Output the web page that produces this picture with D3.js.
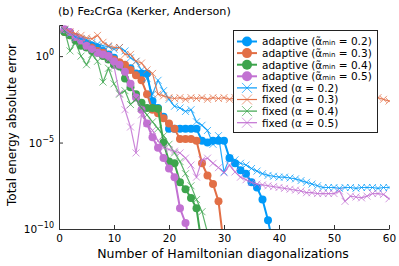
<!DOCTYPE html>
<html>
<head>
<meta charset="utf-8">
<script src="https://cdn.jsdelivr.net/npm/d3@7"></script>
<style>
  body { margin: 0; background: #fff; }
  svg { display: block; font-family: "DejaVu Sans", sans-serif; }
</style>
</head>
<body>
<div id="chart"></div>
<script>
// values are log10 of the total energy absolute error, iteration n starts at 1
const adaptive02 = [1.5, 1.3, 1.1, 0.9, 0.7, 0.6, 0.5, 0.3, 0.1, -0.1, -0.5, -0.6, -0.7, -1.0, -1.0, -1.0,
    -2.6, -3.0, -3.5, -4.2, -4.2, -4.2, -4.2, -4.2, -4.2, -4.9, -5.0, -4.9, -4.9, -4.9,
    -5.9, -6.2, -6.6, -6.8, -7.3, -7.6, -8.3, -9.5, -11];
const adaptive03 = [1.4, 1.2, 1.0, 0.8, 0.6, 0.5, 0.3, 0.2, 0.0, -0.2, -0.35, -0.5, -0.8, -1.1, -1.4, -2.2,
    -3.1, -3.3, -3.6, -3.9, -4.2, -4.8, -4.8, -4.8, -4.9, -6.2, -6.9, -7.4, -8.4, -11];
const adaptive04 = [1.4, 1.2, 0.9, 0.6, 0.5, 0.3, 0.2, 0.0, -0.2, -0.5, -0.6, -1.3, -1.8, -2.2, -2.7, -3.0,
    -3.0, -3.05, -5.0, -6.1, -6.2, -7.3, -7.7, -8.2, -8.8, -11];
const adaptive05 = [1.55, 1.4, 1.1, 0.9, 0.6, 0.4, 0.2, 0.1, 0.0, -0.3, -0.5, -0.9, -1.6, -2.4, -3.1, -3.9,
    -4.7, -5.3, -5.9, -6.5, -7.0, -8.8, -9.65, -11];

const fixed02 = [1.5, 1.3, 1.1, 1.0, 0.95, 0.8, 0.7, 0.6, 0.55, 0.4, 0.5, 0.3, -0.1, -0.3, -0.8, -1.3,
    -2.2, -1.4, -2.0, -2.5, -2.9, -3.0, -3.2, -3.1, -3.8, -4.0, -4.3, -5.1, -4.6, -6.7,
    -5.9, -6.0, -6.2, -6.3, -6.5, -6.65, -6.8, -6.9, -6.95, -7.0, -7.0, -7.05, -7.1, -7.2, -7.3,
    -7.4, -7.5, -7.6, -7.6, -7.6, -7.65, -7.6, -7.6, -7.65, -7.6, -7.6, -7.6, -7.65, -7.6, -7.6];
const fixed03 = [1.55, 1.4, 1.3, 1.2, 1.05, 1.0, 1.2, 0.8, 0.6, 0.5, 0.5, 0.1, 0.1, -0.3, -0.4, -0.8,
    -1.0, -2.2, -2.3, -2.4, -2.45, -2.4, -2.5, -2.4, -2.45, -2.4, -2.5, -2.4, -2.45, -2.4,
    -2.5, -2.4, -2.45, -2.4, -2.5, -2.45, -2.4, -2.5, -2.45, -2.4, -2.5, -2.45, -2.4, -2.5, -2.45,
    -2.4, -2.5, -2.45, -2.4, -2.5, -2.45, -2.4, -2.5, -2.45, -2.4, -2.5, -2.6, -2.4, -2.5, -2.6];
const fixed04 = [1.5, 0.3, 0.8, 0.0, -0.5, 0.1, -0.3, -1.5, -0.7, -1.6, -2.2, -2.0, -2.8, -2.5, -3.0,
    -3.4, -3.8, -4.2, -4.6, -5.1, -5.6, -6.1, -6.8, -7.5, -8.3, -9.0, -10.2];
const fixed05 = [1.55, 1.3, 1.0, 0.8, 0.5, 0.4, 0.3, 0.2, -0.2, -0.6, -2.15, -3.1, -4.1, -5.6, -3.4,
    -3.9, -4.3, -4.9, -5.3, -5.4, -5.5, -5.6, -5.9, -6.3, -7.0, -6.0, -5.9, -6.2, -6.45, -6.75,
    -6.3, -6.7, -7.0, -7.15, -7.3, -7.4, -7.45, -7.5, -7.55, -7.6, -7.65, -7.7, -7.75, -7.8, -7.9,
    -7.9, -7.95, -7.95, -7.95, -7.95, -7.8, -8.4, -8.1, -8.15, -8.2, -8.1, -7.95, -7.95, -8.0, -8.25];

const seriesNames = ["adaptive02", "adaptive03", "adaptive04", "adaptive05",
    "fixed02", "fixed03", "fixed04", "fixed05"];
const seriesData = [adaptive02, adaptive03, adaptive04, adaptive05, fixed02, fixed03, fixed04, fixed05];
const seriesColors = ["#009af9", "#e26f46", "#3da44d", "#c271d2", "#009af9", "#e26f46", "#3da44d", "#c271d2"];
const alphaValues = ["0.2", "0.3", "0.4", "0.5", "0.2", "0.3", "0.4", "0.5"];

const xTickValues = [0, 10, 20, 30, 40, 50, 60];
const yTickValues = [1e0, 1e-5, 1e-10];
const yTickExponents = ["0", "−5", "−10"];

const width = 399, height = 266;
const margin = {top: 25, right: 10, bottom: 37, left: 59};

const svg = d3.select("#chart").append("svg")
    .attr("width", width)
    .attr("height", height);

const x = d3.scaleLinear()
    .domain([0, 60])
    .range([margin.left, width - margin.right]);

const y = d3.scaleLog()
    .domain([1e-10, Math.pow(10, 1.8)])
    .range([height - margin.bottom, margin.top]);

svg.append("clipPath").attr("id", "clip")
    .append("rect")
    .attr("x", margin.left)
    .attr("y", margin.top - 6)
    .attr("width", width - margin.left - margin.right + 1)
    .attr("height", height - margin.bottom - margin.top + 6);

const line = d3.line()
    .x((d, i) => x(i + 1))
    .y(d => y(Math.pow(10, d)));

const plot = svg.append("g").attr("clip-path", "url(#clip)");

seriesData.forEach((vals, k) => {
    const isFixed = k >= 4;
    const g = plot.append("g").attr("class", seriesNames[k]);
    g.append("path")
        .datum(vals)
        .attr("fill", "none")
        .attr("stroke", seriesColors[k])
        .attr("stroke-width", isFixed ? 1.2 : 2)
        .attr("stroke-opacity", isFixed ? 0.85 : 1)
        .attr("d", line);
    if (isFixed) {
        g.selectAll("path.mk").data(vals).join("path")
            .attr("class", "mk")
            .attr("transform", (d, i) => `translate(${x(i + 1)},${y(Math.pow(10, d))})`)
            .attr("d", "M-3.5,-3.5L3.5,3.5M-3.5,3.5L3.5,-3.5")
            .attr("stroke", seriesColors[k])
            .attr("stroke-opacity", 0.7)
            .attr("stroke-width", 1);
    } else {
        g.selectAll("circle").data(vals).join("circle")
            .attr("cx", (d, i) => x(i + 1))
            .attr("cy", d => y(Math.pow(10, d)))
            .attr("r", 4)
            .attr("fill", seriesColors[k]);
    }
});

// axes
const axisColor = "#333";
const xAxis = svg.append("g")
    .attr("transform", `translate(0,${height - margin.bottom})`)
    .call(d3.axisBottom(x).tickValues(xTickValues).tickSize(-4).tickPadding(6).tickSizeOuter(0));
const yAxis = svg.append("g")
    .attr("transform", `translate(${margin.left},0)`)
    .call(d3.axisLeft(y).tickValues(yTickValues).tickSize(-4).tickFormat(""));

[xAxis, yAxis].forEach(a => {
    a.select(".domain").attr("stroke", axisColor).attr("stroke-width", 1);
    a.selectAll(".tick line").attr("stroke", axisColor);
});
xAxis.selectAll(".tick text")
    .attr("font-size", "10.5px")
    .attr("fill", "#000")
    .attr("font-family", "DejaVu Sans, sans-serif");

yTickValues.forEach((v, i) => {
    const t = svg.append("text")
        .attr("x", margin.left - 5)
        .attr("y", y(v) + 4)
        .attr("text-anchor", "end")
        .attr("font-size", "10.5px");
    t.append("tspan").text("10");
    t.append("tspan").attr("dy", -5).attr("font-size", "8px").text(yTickExponents[i]);
});

// labels
svg.append("text")
    .attr("x", 58)
    .attr("y", 15)
    .attr("font-size", "11.2px")
    .text("(b) Fe₂CrGa (Kerker, Anderson)");

svg.append("text")
    .attr("x", 223)
    .attr("y", 258)
    .attr("text-anchor", "middle")
    .attr("font-size", "12.5px")
    .text("Number of Hamiltonian diagonalizations");

svg.append("text")
    .attr("transform", `translate(16,125) rotate(-90)`)
    .attr("text-anchor", "middle")
    .attr("font-size", "12px")
    .text("Total energy absolute error");

// legend
const legend = svg.append("g");
legend.append("rect")
    .attr("x", 233.5).attr("y", 30.5)
    .attr("width", 144).attr("height", 102)
    .attr("fill", "#fff")
    .attr("stroke", "#222")
    .attr("stroke-width", 1);

seriesNames.forEach((name, k) => {
    const ly = 41.5 + k * 11.6;
    const isFixed = k >= 4;
    legend.append("line")
        .attr("x1", 237).attr("x2", 257)
        .attr("y1", ly).attr("y2", ly)
        .attr("stroke", seriesColors[k])
        .attr("stroke-width", isFixed ? 1.2 : 2);
    if (isFixed) {
        legend.append("path")
            .attr("transform", `translate(247,${ly})`)
            .attr("d", "M-5,-5L5,5M-5,5L5,-5")
            .attr("stroke", seriesColors[k])
            .attr("stroke-opacity", 0.7)
            .attr("stroke-width", 1);
    } else {
        legend.append("circle")
            .attr("cx", 247).attr("cy", ly).attr("r", 5)
            .attr("fill", seriesColors[k]);
    }
    const t = legend.append("text")
        .attr("x", 262)
        .attr("y", ly + 3.8)
        .attr("font-size", "10.5px");
    if (isFixed) {
        t.text(`fixed (α = ${alphaValues[k]})`);
    } else {
        t.append("tspan").text("adaptive (α̃");
        t.append("tspan").attr("font-size", "7px").text("min");
        t.append("tspan").text(` = ${alphaValues[k]})`);
    }
});
</script>
</body>
</html>
